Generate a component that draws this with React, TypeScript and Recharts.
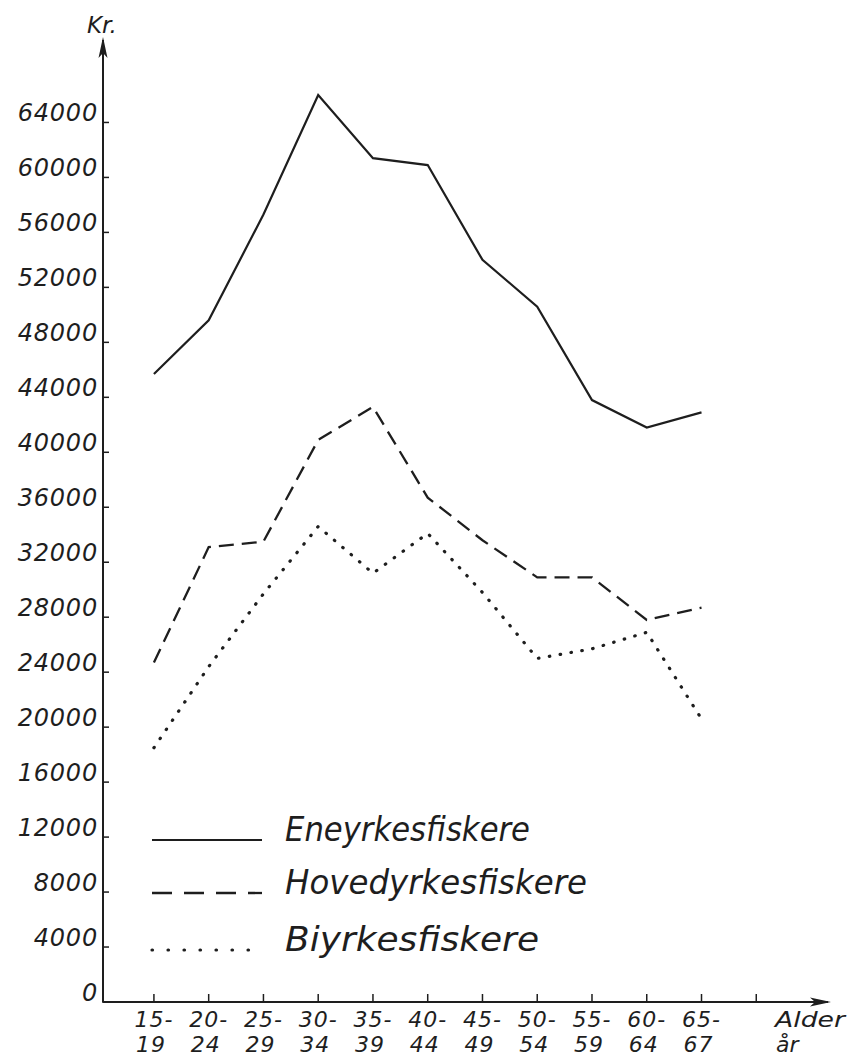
import { LineChart, Line, XAxis, YAxis, Legend } from 'recharts';

const INK = '#1e1e1e';
const FONT = '"DejaVu Sans", sans-serif';

// age groups (x axis), two-line labels
const AGE_FROM = ['15-', '20-', '25-', '30-', '35-', '40-', '45-', '50-', '55-', '60-', '65-'];
const AGE_TO = ['19', '24', '29', '34', '39', '44', '49', '54', '59', '64', '67'];

// income in kroner
const ENEYRKE = [45700, 49600, 57300, 66000, 61400, 60900, 54000, 50600, 43800, 41800, 42900];
const HOVEDYRKE = [24700, 33100, 33500, 40900, 43300, 36700, 33600, 30900, 30900, 27800, 28700];
const BIYRKE = [18500, 24400, 29700, 34600, 31200, 34100, 29800, 25000, 25700, 26900, 20600];

const Y_TICKS = [0, 4000, 8000, 12000, 16000, 20000, 24000, 28000, 32000, 36000, 40000, 44000, 48000, 52000, 56000, 60000, 64000];
const X_TICKS = [0, 1, 2, 3, 4, 5, 6, 7, 8, 9, 10, 11];

const SERIES = [
  { key: 'ene', name: 'Eneyrkesfiskere', dash: undefined, legendDash: undefined, width: 2.2, cap: 'butt', textLen: 245 },
  { key: 'hoved', name: 'Hovedyrkesfiskere', dash: '15 8', legendDash: '20 12', width: 2.3, cap: 'butt', textLen: 302 },
  { key: 'bi', name: 'Biyrkesfiskere', dash: '0.5 10.5', legendDash: '0.5 15.5', width: 3.2, cap: 'round', textLen: 254 },
];

const data = AGE_FROM.map((_, i) => ({
  i,
  ene: ENEYRKE[i],
  hoved: HOVEDYRKE[i],
  bi: BIYRKE[i],
}));

function YTick({ x, y, payload }: any) {
  return (
    <g>
      <line x1={x - 1} y1={y} x2={x + 6} y2={y} stroke={INK} strokeWidth={1.5} />
      <text
        x={x - 5}
        y={y - 1}
        textAnchor="end"
        fontFamily={FONT}
        fontStyle="italic"
        fontSize={24}
        letterSpacing={0.8}
        fill={INK}
      >
        {payload.value}
      </text>
    </g>
  );
}

function XTick({ x, y, payload }: any) {
  const i = payload.value;
  return (
    <g>
      <line x1={x} y1={y} x2={x} y2={y - 8} stroke={INK} strokeWidth={1.5} />
      <text x={x} y={y + 25} textAnchor="middle" fontFamily={FONT} fontStyle="italic" fontSize={22} letterSpacing={1} fill={INK}>
        {AGE_FROM[i] ?? ''}
      </text>
      <text x={x - 3} y={y + 50} textAnchor="middle" fontFamily={FONT} fontStyle="italic" fontSize={22} letterSpacing={1} fill={INK}>
        {AGE_TO[i] ?? ''}
      </text>
    </g>
  );
}

function YArrow(props: any) {
  const vb = props.viewBox || { x: 0, y: 40, width: 103 };
  const ax = vb.x + vb.width;
  const top = vb.y;
  return (
    <g>
      <path d={`M${ax} ${top - 3} L${ax - 4.5} ${top + 18} L${ax} ${top + 13} L${ax + 4.5} ${top + 18} Z`} fill={INK} />
      <text x={ax - 16} y={top - 7} fontFamily={FONT} fontStyle="italic" fontSize={23} fill={INK}>
        Kr.
      </text>
    </g>
  );
}

function XArrow(props: any) {
  const vb = props.viewBox || { x: 103, y: 1002, width: 725 };
  const tip = vb.x + vb.width;
  const ay = vb.y;
  return (
    <g>
      <path d={`M${tip + 3} ${ay} L${tip - 18} ${ay - 4.5} L${tip - 13} ${ay} L${tip - 18} ${ay + 4.5} Z`} fill={INK} />
      <text x={tip - 53} y={ay + 25} fontFamily={FONT} fontStyle="italic" fontSize={22} fill={INK} textLength={70} lengthAdjust="spacingAndGlyphs">
        Alder
      </text>
      <text x={tip - 52} y={ay + 50} fontFamily={FONT} fontStyle="italic" fontSize={22} fill={INK}>
        år
      </text>
    </g>
  );
}

function LegendBox() {
  const rows = [40, 93, 150];
  return (
    <svg width={480} height={170} style={{ display: 'block', overflow: 'visible' }}>
      {SERIES.map((s, k) => (
        <g key={s.key}>
          <line
            x1={12}
            x2={122}
            y1={rows[k]}
            y2={rows[k]}
            stroke={INK}
            strokeWidth={s.width}
            strokeDasharray={s.legendDash}
            strokeLinecap={s.cap as any}
          />
          <text
            x={145}
            y={rows[k] + 1}
            fontFamily={FONT}
            fontStyle="italic"
            fontSize={33}
            fill={INK}
            textLength={s.textLen}
            lengthAdjust="spacingAndGlyphs"
          >
            {s.name}
          </text>
        </g>
      ))}
    </svg>
  );
}

export default function App() {
  return (
    <div style={{ position: 'absolute', left: 0, top: 0, width: 857, height: 1060, background: '#fff' }}>
      <LineChart width={857} height={1060} data={data} margin={{ top: 40, right: 29, bottom: 0, left: 0 }}>
        <XAxis
          dataKey="i"
          type="number"
          domain={[-0.93, 12.31]}
          ticks={X_TICKS}
          interval={0}
          allowDataOverflow
          height={58}
          tickSize={0}
          tickMargin={0}
          tickLine={false}
          axisLine={{ stroke: INK, strokeWidth: 2 }}
          tick={<XTick />}
          label={{ content: <XArrow /> } as any}
        />
        <YAxis
          type="number"
          domain={[0, 70000]}
          ticks={Y_TICKS}
          interval={0}
          allowDataOverflow
          width={103}
          tickSize={0}
          tickMargin={0}
          tickLine={false}
          axisLine={{ stroke: INK, strokeWidth: 2 }}
          tick={<YTick />}
          label={{ content: <YArrow /> } as any}
        />
        <Legend
          layout="horizontal"
          verticalAlign="middle"
          align="center"
          content={() => <LegendBox />}
          wrapperStyle={{ position: 'absolute', left: 140, top: 800, width: 480, height: 170 }}
        />
        {SERIES.map((s) => (
          <Line
            key={s.key}
            dataKey={s.key}
            name={s.name}
            type="linear"
            stroke={INK}
            strokeWidth={s.width}
            strokeDasharray={s.dash}
            strokeLinecap={s.cap as any}
            dot={false}
            activeDot={false}
            isAnimationActive={false}
          />
        ))}
      </LineChart>
    </div>
  );
}
